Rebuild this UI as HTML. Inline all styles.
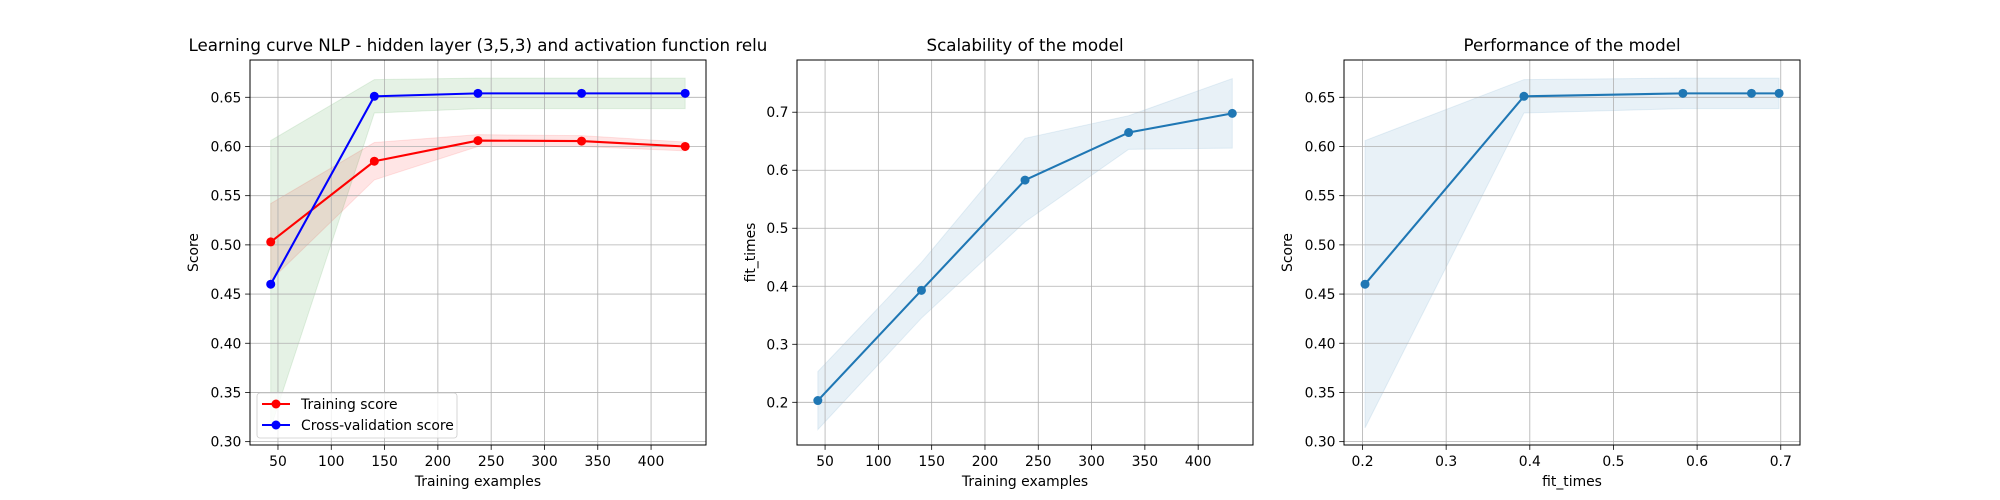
<!DOCTYPE html>
<html><head><meta charset="utf-8"><style>
html,body{margin:0;padding:0;background:#fff;}
svg{display:block;font-family:"DejaVu Sans","Liberation Sans",sans-serif;}
</style></head><body>
<svg id="fig" width="2000" height="500" viewBox="0 0 2000 500" xmlns="http://www.w3.org/2000/svg"></svg>
<script>
const trainSizes = [43.2, 140.4, 237.6, 334.8, 432];
const trainMean = [0.503, 0.585, 0.606, 0.6055, 0.600];
const trainStd = [0.039, 0.019, 0.006, 0.0055, 0.0045];
const cvMean = [0.460, 0.651, 0.654, 0.654, 0.654];
const cvStd = [0.146, 0.017, 0.0155, 0.0155, 0.0155];
const fitMean = [0.203, 0.393, 0.583, 0.665, 0.698];
const fitStd = [0.050, 0.048, 0.072, 0.029, 0.060];
const xTicksN = [50, 100, 150, 200, 250, 300, 350, 400];
const yTicksScore = [0.30, 0.35, 0.40, 0.45, 0.50, 0.55, 0.60, 0.65];
const yTicksFit = [0.2, 0.3, 0.4, 0.5, 0.6, 0.7];
const xTicksFit = [0.2, 0.3, 0.4, 0.5, 0.6, 0.7];

const NS = "http://www.w3.org/2000/svg";
const fig = document.getElementById('fig');
function mk(tag, attrs, parent) {
  const e = document.createElementNS(NS, tag);
  for (const k in attrs) e.setAttribute(k, attrs[k]);
  (parent || fig).appendChild(e);
  return e;
}
const TOP = 60, BOT = 445;

function panel(cfg) {
  const g = mk('g', {});
  
  
  const L = cfg.left, R = cfg.left + 455.9;
  const sx = v => L + (v - cfg.xlim[0]) / (cfg.xlim[1] - cfg.xlim[0]) * (R - L);
  const sy = v => BOT - (v - cfg.ylim[0]) / (cfg.ylim[1] - cfg.ylim[0]) * (BOT - TOP);
  cfg.fills.forEach(f => {
    let d = '';
    f.x.forEach((x, i) => { d += (i ? 'L' : 'M') + sx(x) + ' ' + sy(f.hi[i]); });
    for (let i = f.x.length - 1; i >= 0; i--) d += 'L' + sx(f.x[i]) + ' ' + sy(f.lo[i]);
    const p = mk('path', {d: d + 'Z', fill: f.color, 'fill-opacity': 0.1, stroke: f.color, 'stroke-opacity': 0.1, 'stroke-width': 1}, g);
    
    
  });
  cfg.xticks.forEach(t => {
    const x = sx(t);
    const gl = mk('line', {x1: x, x2: x, y1: TOP, y2: BOT, stroke: '#b0b0b0', 'stroke-width': 0.8}, g);
    
    
    mk('line', {x1: x, x2: x, y1: BOT, y2: BOT + 4.9, stroke: '#000', 'stroke-width': 0.8}, g);
    const tx = mk('text', {x: x, y: 466, 'font-size': 13.9, 'text-anchor': 'middle', fill: '#000'}, g);
    tx.textContent = cfg.xfmt(t);
    
    
  });
  cfg.yticks.forEach(t => {
    const y = sy(t);
    const gl = mk('line', {x1: L, x2: R, y1: y, y2: y, stroke: '#b0b0b0', 'stroke-width': 0.8}, g);
    
    
    mk('line', {x1: L - 4.9, x2: L, y1: y, y2: y, stroke: '#000', 'stroke-width': 0.8}, g);
    const tx = mk('text', {x: L - 8.6, y: y + 5, 'font-size': 13.9, 'text-anchor': 'end', fill: '#000'}, g);
    tx.textContent = cfg.yfmt(t);
    
    
  });
  cfg.lines.forEach(s => {
    const pts = s.x.map((x, i) => sx(x) + ',' + sy(s.y[i])).join(' ');
    const pl = mk('polyline', {points: pts, fill: 'none', stroke: s.color, 'stroke-width': 2.08, 'stroke-linejoin': 'round'}, g);
    
    
    s.x.forEach((x, i) => {
      const c = mk('circle', {cx: sx(x), cy: sy(s.y[i]), r: 4.5, fill: s.color}, g);
      
      
    });
  });
  const fr = mk('rect', {x: Math.round(L), y: TOP, width: Math.round(R - L), height: BOT - TOP, fill: 'none', stroke: '#000', 'stroke-width': 1, 'shape-rendering': 'crispEdges'}, g);
  
  
  const ti = mk('text', {x: (L + R) / 2, y: 51, 'font-size': 16.7, 'text-anchor': 'middle', fill: '#000'}, g);
  ti.textContent = cfg.title;
  
  
  const xl = mk('text', {x: (L + R) / 2, y: 486, 'font-size': 13.9, 'text-anchor': 'middle', fill: '#000'}, g);
  xl.textContent = cfg.xlabel;
  
  
  const yx = L - cfg.ylabelOff, yy = (TOP + BOT) / 2;
  const yl = mk('text', {x: yx, y: yy, 'font-size': 13.9, 'text-anchor': 'middle', fill: '#000', transform: 'rotate(-90 ' + yx + ' ' + yy + ')'}, g);
  yl.textContent = cfg.ylabel;
  
  
  return g;
}

const lo = (m, s) => m.map((v, i) => v - s[i]);
const hi = (m, s) => m.map((v, i) => v + s[i]);
const f2 = v => v.toFixed(2), f1 = v => v.toFixed(1), f0 = v => String(v);

panel({name: 'learning-curve-chart', left: 250, xlim: [23.76, 451.44], ylim: [0.2966, 0.6879],
  xticks: xTicksN, yticks: yTicksScore, xfmt: f0, yfmt: f2,
  title: 'Learning curve NLP - hidden layer (3,5,3) and activation function relu',
  xlabel: 'Training examples', ylabel: 'Score', ylabelOff: 52,
  fills: [
    {name: 'training-score-band', x: trainSizes, lo: lo(trainMean, trainStd), hi: hi(trainMean, trainStd), color: '#ff0000'},
    {name: 'cv-score-band', x: trainSizes, lo: lo(cvMean, cvStd), hi: hi(cvMean, cvStd), color: '#008000'}],
  lines: [
    {name: 'training-score-line', x: trainSizes, y: trainMean, color: '#ff0000'},
    {name: 'cv-score-line', x: trainSizes, y: cvMean, color: '#0000ff'}]
});

panel({name: 'scalability-chart', left: 797.1, xlim: [23.76, 451.44], ylim: [0.1264, 0.790],
  xticks: xTicksN, yticks: yTicksFit, xfmt: f0, yfmt: f1,
  title: 'Scalability of the model', xlabel: 'Training examples', ylabel: 'fit_times', ylabelOff: 42,
  fills: [{name: 'fit-times-band', x: trainSizes, lo: lo(fitMean, fitStd), hi: hi(fitMean, fitStd), color: '#1f77b4'}],
  lines: [{name: 'fit-times-line', x: trainSizes, y: fitMean, color: '#1f77b4'}]
});

panel({name: 'performance-chart', left: 1344.1, xlim: [0.178, 0.723], ylim: [0.2966, 0.6879],
  xticks: xTicksFit, yticks: yTicksScore, xfmt: f1, yfmt: f2,
  title: 'Performance of the model', xlabel: 'fit_times', ylabel: 'Score', ylabelOff: 52,
  fills: [{name: 'performance-band', x: fitMean, lo: lo(cvMean, cvStd), hi: hi(cvMean, cvStd), color: '#1f77b4'}],
  lines: [{name: 'performance-line', x: fitMean, y: cvMean, color: '#1f77b4'}]
});

const lg = mk('g', {});


mk('rect', {x: 257, y: 393, width: 200, height: 45, rx: 3, fill: '#fff', 'fill-opacity': 0.8, stroke: '#cccccc', 'stroke-width': 0.8}, lg);
[['Training score', '#ff0000', 409], ['Cross-validation score', '#0000ff', 430]].forEach(([t, c, y]) => {
  const e = mk('g', {}, lg);
  
  
  mk('line', {x1: 262, x2: 290, y1: y - 5, y2: y - 5, stroke: c, 'stroke-width': 2.08}, e);
  mk('circle', {cx: 276, cy: y - 5, r: 4.5, fill: c}, e);
  const tx = mk('text', {x: 301, y: y, 'font-size': 13.9, fill: '#000'}, e);
  tx.textContent = t;
});
</script>
</body></html>
